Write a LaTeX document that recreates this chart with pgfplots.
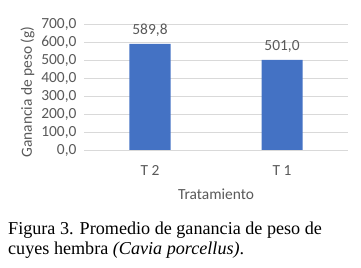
\documentclass[border=0pt]{standalone}
\usepackage{pgfplots}
\pgfplotsset{compat=1.18}
\usepackage{fontspec}
\setmainfont{Carlito}
\newfontfamily\capfont{Liberation Serif}
\definecolor{txt}{HTML}{595959}
\definecolor{grid}{HTML}{D9D9D9}
\definecolor{bar}{HTML}{4472C4}
\begin{document}
\begin{tikzpicture}[x=1bp,y=1bp]
\useasboundingbox (0,0) rectangle (361,268);
\begin{axis}[
  at={(84bp,118bp)}, anchor=south west,
  scale only axis, width=264bp, height=126bp,
  xmin=-0.5, xmax=1.5, ymin=0, ymax=700,
  xtick={0,1}, xticklabels={T 2, T 1},
  ytick={0,100,...,700},
  ymajorgrids, xmajorgrids=false,
  y grid style={grid, line width=0.8pt},
  axis x line*=bottom, axis y line*=left,
  x axis line style={grid, line width=0.8pt, -},
  y axis line style={draw=none},
  major tick length=0pt,
  ticklabel style={font=\fontsize{15.5}{18}\selectfont, text=txt},
  /pgf/number format/assume math mode=true,
  /pgf/number format/.cd, fixed, fixed zerofill, precision=1, use comma, 1000 sep={},
  /pgfplots/.cd,
  yticklabel style={xshift=-4bp},
  xticklabel style={yshift=-12bp},
  xlabel={Tratamiento},
  xlabel style={font=\fontsize{15.5}{18}\selectfont, text=txt, yshift=-6bp},
  ylabel={Ganancia de peso (g)},
  ylabel style={font=\fontsize{15.5}{18}\selectfont, text=txt, yshift=0bp, xshift=-5bp},
  ybar, bar width=41bp,
  nodes near coords,
  nodes near coords style={font=\fontsize{15.5}{18}\selectfont, text=txt, yshift=4bp,
    /pgf/number format/.cd, fixed, fixed zerofill, precision=1, use comma},
  clip=false,
]
\addplot[fill=bar, draw=none] coordinates {(0,589.8) (1,501.0)};
\end{axis}
\node[anchor=base west, inner sep=0, font=\capfont\fontsize{18.2}{22}\selectfont] at (8,34) {Figura 3. Promedio de ganancia de peso de};
\node[anchor=base west, inner sep=0, font=\capfont\fontsize{18.2}{22}\selectfont] at (8,14) {cuyes hembra \textit{(Cavia porcellus)}.};
\end{tikzpicture}
\end{document}
